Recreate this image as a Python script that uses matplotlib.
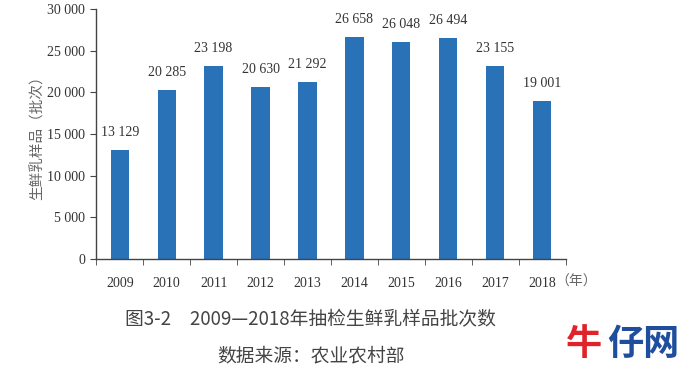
import matplotlib
matplotlib.use('Agg')
import matplotlib.pyplot as plt
import numpy as np

years = ['2009', '2010', '2011', '2012', '2013', '2014', '2015', '2016', '2017', '2018']
batches = [13129, 20285, 23198, 20630, 21292, 26658, 26048, 26494, 23155, 19001]
y_ticks = [0, 5000, 10000, 15000, 20000, 25000, 30000]

cjk = ['Noto Sans CJK SC', 'DejaVu Sans']
serif = ['Liberation Serif', 'DejaVu Serif']

def fmt(v):
    return '{:,}'.format(v).replace(',', ' ')

fig = plt.figure(figsize=(6.88, 3.67), dpi=100)
ax = fig.add_axes([0.140, 0.294, 0.682, 0.681])

x = np.arange(len(years))
ax.bar(x, batches, width=0.39, color='#2a72b8')
for xi, v in zip(x, batches):
    ax.annotate(fmt(v), (xi, v), xytext=(0, 8), textcoords='offset points',
                ha='center', va='bottom', fontsize=10, family=serif, color='#333333')

ax.set_xlim(-0.5, len(years) - 0.5)
ax.set_ylim(0, 30000)
ax.set_yticks(y_ticks)
ax.set_yticklabels([fmt(v) for v in y_ticks], family=serif, fontsize=10, color='#333333')
ax.set_xticks(x)
ax.set_xticklabels(years, family=serif, fontsize=10, color='#333333')
ax.set_xticks(np.arange(-0.5, len(years)), minor=True)
ax.tick_params(axis='x', which='major', length=0, pad=13)
ax.tick_params(axis='x', which='minor', length=4, color='#444444')
ax.tick_params(axis='y', length=4, color='#444444', pad=4)
for s in ['top', 'right']:
    ax.spines[s].set_visible(False)
for s in ['left', 'bottom']:
    ax.spines[s].set_color('#444444')
    ax.spines[s].set_linewidth(1.0)

ax.set_ylabel('生鲜乳样品（批次）', family=cjk, fontsize=10.5, color='#666666', labelpad=2)
fig.text(0.807, 0.233, '（年）', family=cjk, fontsize=10, color='#666666', va='center', ha='left')

fig.text(0.451, 0.128, '图3-2　2009—2018年抽检生鲜乳样品批次数', family=cjk,
         fontsize=13.5, color='#444444', ha='center', va='center')
fig.text(0.452, 0.029, '数据来源：农业农村部', family=cjk,
         fontsize=13.5, color='#444444', ha='center', va='center')

fig.text(0.823, 0.06, '牛', family=cjk, fontsize=26, fontweight='bold',
         color='#e0222a', ha='left', va='center')
fig.text(0.882, 0.06, '仔网', family=cjk, fontsize=26, fontweight='bold',
         color='#1f4e9c', ha='left', va='center')

fig.savefig('out.png', dpi=100)
